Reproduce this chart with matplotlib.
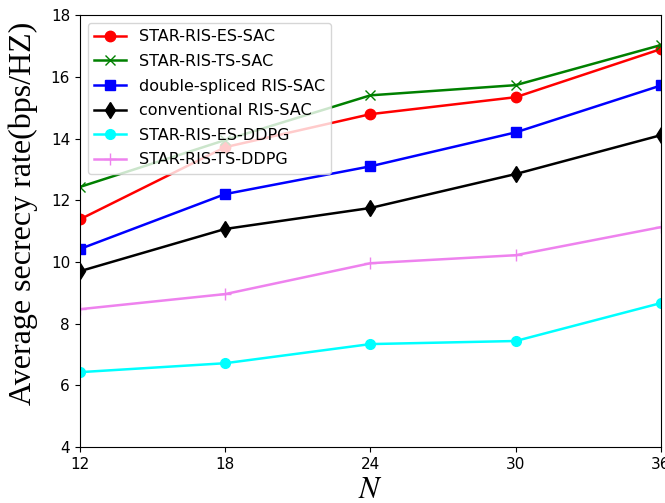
import matplotlib
matplotlib.use("Agg")
import matplotlib.pyplot as plt

plt.rcParams['mathtext.fontset'] = 'stix'

N = [12, 18, 24, 30, 36]
es_sac = [11.38, 13.72, 14.79, 15.34, 16.90]
ts_sac = [12.43, 13.95, 15.40, 15.73, 17.03]
ds_sac = [10.42, 12.20, 13.10, 14.20, 15.72]
conv_sac = [9.70, 11.07, 11.75, 12.85, 14.11]
es_ddpg = [6.43, 6.72, 7.34, 7.44, 8.67]
ts_ddpg = [8.47, 8.96, 9.96, 10.22, 11.13]

fig = plt.figure(figsize=(6.65, 5.03), dpi=100)
ax = fig.add_axes([0.12, 0.111, 0.874, 0.859])

ax.plot(N, es_sac, color='red', marker='o', markersize=7.5, lw=1.8, label='STAR-RIS-ES-SAC')
ax.plot(N, ts_sac, color='green', marker='x', markersize=7.5, lw=1.8, label='STAR-RIS-TS-SAC')
ax.plot(N, ds_sac, color='blue', marker='s', markersize=7.5, lw=1.8, label='double-spliced RIS-SAC')
ax.plot(N, conv_sac, color='black', marker='d', markersize=8.5, lw=1.8, label='conventional RIS-SAC')
ax.plot(N, es_ddpg, color='cyan', marker='o', markersize=7, lw=1.8, label='STAR-RIS-ES-DDPG')
ax.plot(N, ts_ddpg, color='violet', marker='+', markersize=8, lw=1.8, label='STAR-RIS-TS-DDPG')

ax.set_xlim(12, 36)
ax.set_ylim(4, 18)
ax.set_xticks(N)
ax.set_yticks([4, 6, 8, 10, 12, 14, 16, 18])
ax.tick_params(labelsize=11)
ax.set_xlabel('$N$', fontsize=22, labelpad=2)
ax.set_ylabel('Average secrecy rate(bps/HZ)', fontsize=23, family='Liberation Serif')
ax.yaxis.set_label_coords(-0.072, 0.54)
ax.legend(loc='upper left', fontsize=11.5, labelspacing=0.6)

fig.savefig('out.png', dpi=100)
